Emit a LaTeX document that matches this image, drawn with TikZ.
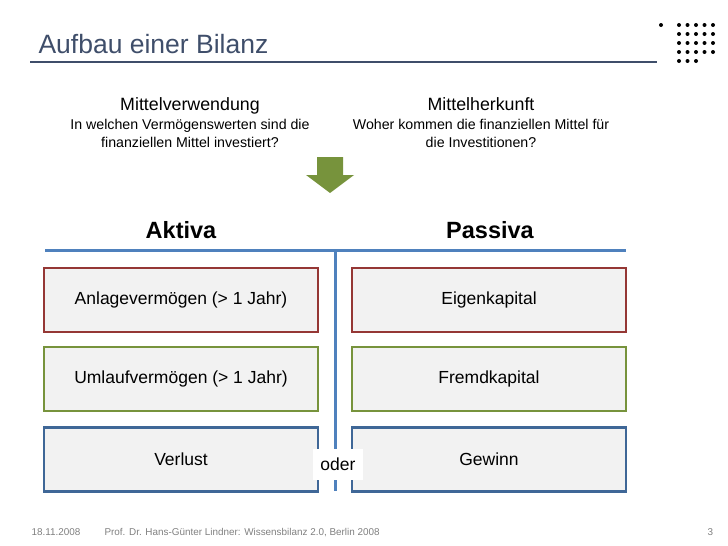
\documentclass[tikz,border=0pt]{standalone}
\usepackage{fontspec}
\setmainfont{Liberation Sans}
\usetikzlibrary{positioning}
\definecolor{titel}{HTML}{3F4E6A}
\definecolor{blau}{HTML}{4F81BD}
\definecolor{rot}{HTML}{953735}
\definecolor{gruen}{HTML}{77933C}
\definecolor{grau}{HTML}{F2F2F2}
\tikzset{
  kasten/.style={draw=#1,line width=2.3pt,fill=grau,minimum width=274pt,minimum height=64pt,font=\fontsize{17.5}{20}\selectfont},
  kopf/.style={font=\fontsize{23.5}{26}\selectfont\bfseries},
  frage/.style={align=center,font=\fontsize{14.2}{18.5}\selectfont},
  fuss/.style={text=gray,font=\fontsize{9.9}{11}\selectfont,anchor=base west}
}
\begin{document}
\begin{tikzpicture}[x=1pt,y=-1pt]
            \useasboundingbox (0,0) rectangle (728,546);
            % Titel
            \node[anchor=base west,text=titel,font=\fontsize{26.5}{30}\selectfont] (titel) at (35,53) {Aufbau einer Bilanz};
            \draw[titel,line width=2.4pt] (30,62)--(657,62);
            \fill (661,25) circle (2);
            \foreach \i in {0,...,4}
              \foreach \j in {0,...,3}
                \fill (679+8.5*\i,25+9*\j) circle (2);
            \foreach \i in {0,...,2}
                \fill (679+8.5*\i,61) circle (2);
            % Fragen
            \node[frage] (verw) at (190,123) {\fontsize{17.8}{18.5}\selectfont Mittelverwendung\\In welchen Vermögenswerten sind die\\finanziellen Mittel investiert?};
            \node[frage] (herk) at (481,123) {\fontsize{17.8}{18.5}\selectfont Mittelherkunft\\Woher kommen die finanziellen Mittel für\\die Investitionen?};
            \fill[gruen] (317,157)--(343,157)--(343,175)--(354,175)--(330,193)--(306,175)--(317,175)--cycle;
            % Aktiva / Passiva
            \node[kopf] (aktiva) at (181,230) {Aktiva};
            \node[kopf] (passiva) at (490,230) {Passiva};
            \coordinate (links) at (45,250);
            \coordinate (rechts) at (626,250);
            \coordinate (oben) at (335,250);
            \coordinate (unten) at (335,491);
            \draw[blau,line width=3pt] (links)--(rechts);
            \draw[blau,line width=3pt] (oben)--(unten);
            \node[kasten=rot] (anlage) at (181,300) {Anlagevermögen (> 1 Jahr)};
            \node[kasten=gruen] (umlauf) at (181,379) {Umlaufvermögen (> 1 Jahr)};
            \node[kasten=blau!80!black] (verlust) at (181,459.5) {Verlust};
            \node[kasten=rot] (eigen) at (489,300) {Eigenkapital};
            \node[kasten=gruen] (fremd) at (489,379) {Fremdkapital};
            \node[kasten=blau!80!black] (gewinn) at (489,459.5) {Gewinn};
            \node[fill=white,font=\fontsize{17.5}{20}\selectfont,minimum width=50pt,minimum height=31pt] (oder) at (338,464) {oder};
            % Fusszeile
            \node[fuss] (datum) at (28,535) {18.11.2008};
            \node[fuss] (autor) at (101,535) {Prof. Dr. Hans-Günter Lindner: Wissensbilanz 2.0, Berlin 2008};
            \node[fuss] (seite) at (704,535) {3};
        \end{tikzpicture}
\end{document}
